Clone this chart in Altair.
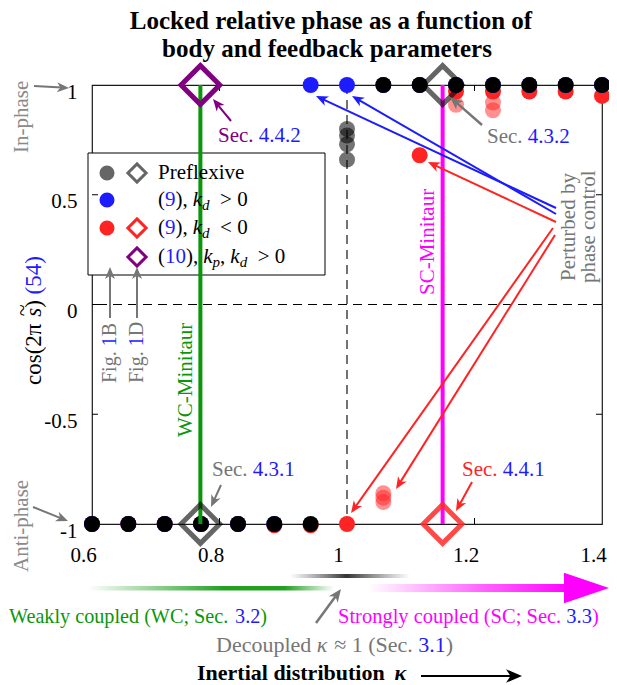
import math
import altair as alt
import pandas as pd

SERIF = "Liberation Serif"

# ---------------- data ----------------
kappa_levels = [0.6, 0.657, 0.714, 0.771, 0.829, 0.886, 0.943, 1.0,
                1.057, 1.114, 1.171, 1.229, 1.286, 1.343, 1.4]

# preflexive simulations
pre_kappa = [0.6, 0.657, 0.714, 0.771, 0.829, 0.886, 0.943, 1.0, 1.0, 1.0, 1.0,
             1.057, 1.114, 1.171, 1.229, 1.286, 1.343, 1.4]
pre_phase = [-1, -1, -1, -1, -1, -1, -1, 0.80, 0.77, 0.73, 0.66,
             1, 1, 1, 1, 1, 1, 1]
pre_faint = [0, 0, 0, 0, 0, 0, 0, 1, 1, 1, 1, 0, 0, 0, 0, 0, 0, 0]

# feedback (9) with k_d > 0
pos_kappa = kappa_levels
pos_phase = [-1, -1, -1, -1, -1, -1, 1, 1, 1, 1, 1, 1, 1, 1, 1]

# feedback (9) with k_d < 0
neg_kappa = [0.6, 0.657, 0.714, 0.771, 0.829, 0.886, 0.943, 1.0,
             1.057, 1.057, 1.057, 1.114, 1.171, 1.171, 1.229, 1.229, 1.229,
             1.286, 1.343, 1.4]
neg_phase = [-1, -1, -1, -1, -1, -1.006, -1.006, -1,
             -0.86, -0.88, -0.90, 0.68, 0.97, 0.91, 0.97, 0.92, 0.885,
             0.97, 0.97, 0.95]
neg_faint = [0, 0, 0, 0, 0, 0, 0, 0, 1, 1, 1, 0, 0, 1, 0, 1, 1, 0, 0, 0]

# analytical (diamond) solutions
pre_d_kappa, pre_d_phase = [0.77, 1.15], [-1, 1]
neg_d_kappa, neg_d_phase = [1.15], [-1]
fb_d_kappa, fb_d_phase = [0.77], [1]

robots = ["WC-Minitaur", "SC-Minitaur"]
robot_kappa = [0.77, 1.15]

x_ticks = [0.6, 0.8, 1.0, 1.2, 1.4]
y_ticks = [-1, -0.5, 0, 0.5, 1]

# ---------------- colours ----------------
K = "#000000"
GRAY = "#767676"
LGRAY = "#8a8a8a"
BLUE = "#1c1cff"
RED = "#ff2424"
PURPLE = "#800080"
GREEN = "#0a960a"
MAG = "#ff00ff"

# ---------------- layout ----------------
X0, Y0, PW, PH = 92, 85, 510, 439   # plot origin on the page, plot size

sx = alt.Scale(domain=[0.6, 1.4], nice=False, zero=False)
sy = alt.Scale(domain=[-1, 1], nice=False, zero=False)
ax_x = alt.Axis(values=x_ticks, labelExpr="toString(datum.value)", ticks=False,
                domain=False, grid=False, title=None, labelPadding=20,
                labelOffset=-9, labelFont=SERIF, labelFontSize=21,
                labelColor=K, labelFlush=False)
ax_y = alt.Axis(values=y_ticks, labelExpr="toString(datum.value)", ticks=False,
                domain=False, grid=False, title=None, labelPadding=15,
                labelOffset=7, labelFont=SERIF, labelFontSize=21,
                labelColor=K, labelFlush=False)


def X(f):
    return alt.X(f, scale=sx, axis=ax_x)


def Y(f):
    return alt.Y(f, scale=sy, axis=ax_y)


# ---- text width estimate (Times metrics) ----
_W = {' ': 250, '(': 333, ')': 333, ',': 250, '-': 333, '.': 250, ';': 278,
      '<': 564, '>': 564, '≈': 549, 'κ': 540, 'π': 550, '~': 541}
for d in "0123456789":
    _W[d] = 500
_W.update(dict(zip("ABCDEFGHIJKLMNOPQRSTUVWXYZ",
                   [722, 667, 667, 722, 611, 556, 722, 722, 333, 389, 722, 611, 889,
                    722, 722, 556, 722, 667, 556, 611, 722, 722, 944, 722, 722, 611])))
_W.update(dict(zip("abcdefghijklmnopqrstuvwxyz",
                   [444, 500, 444, 500, 444, 333, 500, 500, 278, 278, 500, 278, 778,
                    500, 500, 500, 500, 333, 389, 278, 500, 500, 722, 500, 500, 444])))
_WB = dict(_W)
_WB.update({'I': 389, 'n': 556, 'e': 444, 'r': 444, 't': 333, 'd': 556, 'b': 556, 'u': 556})
_WI = dict(_W)
_WI.update({'k': 444})


def tw(s, size, wt="normal", st="normal"):
    tab = _WB if wt == "bold" else (_WI if st == "italic" else _W)
    return sum(tab.get(c, 500) for c in s) * size / 1000.0


pieces = []


def run(x, y, segs, size=21, angle=0):
    cur = 0.0
    for seg in segs:
        s, color = seg[0], seg[1]
        opt = seg[2] if len(seg) > 2 else {}
        if "gap" in opt:
            cur += opt["gap"]
            continue
        fs = opt.get("size", size)
        st = opt.get("style", "normal")
        wt = opt.get("weight", "normal")
        dy = opt.get("dy", 0)
        lead = len(s) - len(s.lstrip(' '))
        core = s.strip(' ')
        off = cur + tw(' ' * lead, fs)
        if core:
            if angle == 0:
                px, py = x + off, y + dy
            else:
                px, py = x + dy, y - off
            pieces.append(dict(x=px - X0, y=py - Y0, t=core, c=color, fs=fs,
                               ang=angle, st=st, wt=wt, al="left"))
        cur += tw(s, fs, wt, st)
    return cur


def centered(x, y, s, color, size, wt="normal", angle=0):
    pieces.append(dict(x=x - X0, y=y - Y0, t=s, c=color, fs=size, ang=angle,
                       st="normal", wt=wt, al="center"))


IT = {"style": "italic"}
SUB = {"style": "italic", "size": 15, "dy": 5}

# title
centered(331, 21, "Locked relative phase as a function of", K, 25, "bold")
centered(327, 49, "body and feedback parameters", K, 25, "bold")

# legend texts
run(158, 173, [("Preflexive", K)])
run(158, 200, [("(", K), ("9", BLUE), ("),", K), ("", None, {"gap": 5}), ("k", K, IT), ("d", K, SUB), ("  > 0", K)])
run(158, 228, [("(", K), ("9", BLUE), ("),", K), ("", None, {"gap": 5}), ("k", K, IT), ("d", K, SUB), ("  < 0", K)])
run(158, 257, [("(", K), ("10", BLUE), ("),", K), ("", None, {"gap": 5}), ("k", K, IT), ("p", K, SUB), (",", K),
               ("", None, {"gap": 5}), ("k", K, IT), ("d", K, SUB), ("  > 0", K)])

# in-plot annotations
run(218, 136, [("Sec.", PURPLE), (" 4.4.2", BLUE)])
run(487, 137, [("Sec.", GRAY), (" 4.3.2", BLUE)])
run(212, 470, [("Sec.", GRAY), (" 4.3.1", BLUE)])
run(462, 470, [("Sec.", RED), (" 4.4.1", BLUE)])
run(569, 281, [("Perturbed by", GRAY)], angle=270)
run(589, 283, [("phase control", GRAY)], angle=270)
run(186, 437, [("WC-Minitaur", GREEN)], angle=270)
run(428, 295, [("SC-Minitaur", MAG)], angle=270)
run(110, 383, [("Fig.", GRAY, {"size": 20}), (" 1", BLUE, {"size": 20}), ("B", GRAY, {"size": 20})], angle=270)
run(137, 383, [("Fig.", GRAY, {"size": 20}), (" 1", BLUE, {"size": 20}), ("D", GRAY, {"size": 20})], angle=270)

# axis side texts (y-axis title with a wide tilde over s)
lab_size = 23
adv = run(34, 385, [("cos(2π", K, {"size": lab_size}), (" s", K, {"size": lab_size, "style": "italic"}),
                    (")", K, {"size": lab_size}), (" (54)", BLUE, {"size": lab_size})], angle=270)
s_center = 385 - tw("cos(2π ", lab_size) - tw("s", lab_size) / 2
centered(22, s_center - 2, "~", K, 22, angle=270)
run(22, 153, [("In-phase", LGRAY)], angle=270)
run(22, 572, [("Anti-phase", LGRAY)], angle=270)

# below the axis
run(9, 617, [("Weakly coupled (WC; Sec.", GREEN), (" 3.2", BLUE), (")", GREEN)], size=20.2)
run(338, 617, [("Strongly coupled (SC; Sec.", MAG), (" 3.3", BLUE), (")", MAG)], size=20.5)
run(216, 645, [("Decoupled", GRAY), (" κ", GRAY, IT), (" ≈ 1 (Sec.", GRAY), (" 3.1", BLUE), (")", GRAY)], size=22)
run(197, 673, [("Inertial distribution", K, {"weight": "bold", "size": 22}),
               ("  κ", K, {"weight": "bold", "style": "italic", "size": 22})])

# arrows: x1, y1, x2 (tip), y2 (tip), colour, width, head length
arrows = [
    (34, 86, 69, 88, GRAY, 2, 12),
    (33, 507, 68, 521, GRAY, 2, 12),
    (231, 121, 213, 99, PURPLE, 2, 12),
    (482, 125, 450, 97, GRAY, 2.5, 13),
    (556, 208, 316, 96, BLUE, 2, 12),
    (556, 214, 352, 96, BLUE, 2, 12),
    (556, 222, 428, 162, RED, 2, 12),
    (553, 228, 351, 513, RED, 2, 12),
    (555, 235, 396, 489, RED, 2, 12),
    (221, 485, 211, 507, GRAY, 2, 12),
    (472, 482, 456, 511, RED, 2, 12),
    (110, 318, 110, 267, GRAY, 2, 12),
    (137, 318, 137, 267, GRAY, 2, 12),
    (316, 623, 341, 589, GRAY, 2.5, 13),
    (421, 676, 522, 676, K, 2, 16),
]

# ---------------- layers ----------------
layers = []

# legend frame
box = pd.DataFrame({"a": [88 - X0], "b": [325 - X0], "c": [153 - Y0], "d": [275 - Y0]})
layers.append(alt.Chart(box).mark_rect(fill="white", stroke=K, strokeWidth=1).encode(
    x=alt.X("a:Q", scale=None), x2="b:Q", y=alt.Y("c:Q", scale=None), y2="d:Q"))

# dashed reference lines (decoupled kappa = 1, cos = 0)
layers.append(alt.Chart(pd.DataFrame({"k": [1.0]})).mark_rule(
    color=K, strokeWidth=1.1, strokeDash=[9, 6]).encode(x=X("k:Q")))
layers.append(alt.Chart(pd.DataFrame({"v": [0.0]})).mark_rule(
    color=K, strokeWidth=1.1, strokeDash=[9, 6]).encode(y=Y("v:Q")))

# inward ticks
xt = pd.DataFrame({"k": x_ticks[1:-1]})
yt = pd.DataFrame({"v": y_ticks[1:-1]})
for a, b in [(PH, PH - 6), (0, 6)]:
    layers.append(alt.Chart(xt).mark_rule(color=K, strokeWidth=1).encode(
        x=X("k:Q"), y=alt.value(a), y2=alt.value(b)))
for a, b in [(0, 6), (PW, PW - 6)]:
    layers.append(alt.Chart(yt).mark_rule(color=K, strokeWidth=1).encode(
        y=Y("v:Q"), x=alt.value(a), x2=alt.value(b)))


def dots(k, v, f, color, faint_op):
    df = pd.DataFrame({"k": k, "v": v, "faint": f})
    return alt.Chart(df).mark_circle(size=255, color=color).encode(
        x=X("k:Q"), y=Y("v:Q"),
        opacity=alt.condition("datum.faint == 1", alt.value(faint_op), alt.value(1)))


layers.append(dots(neg_kappa, neg_phase, neg_faint, RED, 0.5))
layers.append(dots(pos_kappa, pos_phase, [0] * len(pos_kappa), BLUE, 0.5))
layers.append(dots(pre_kappa, pre_phase, pre_faint, K, 0.55))

# robot lines
rl = pd.DataFrame({"k": robot_kappa, "lo": [-1, -1], "hi": [1, 1], "robot": robots})
layers.append(alt.Chart(rl).mark_rule(strokeWidth=4).encode(
    x=X("k:Q"), y=Y("lo:Q"), y2="hi:Q",
    color=alt.Color("robot:N", scale=alt.Scale(domain=robots, range=[GREEN, MAG]), legend=None)))


def diamonds(k, v, color, op):
    df = pd.DataFrame({"k": k, "v": v})
    return alt.Chart(df).mark_point(shape="diamond", filled=False, size=1500,
                                    strokeWidth=5, color=color, opacity=op).encode(
        x=X("k:Q"), y=Y("v:Q"))


layers.append(diamonds(pre_d_kappa, pre_d_phase, "#000000", 0.6))
layers.append(diamonds(neg_d_kappa, neg_d_phase, "#ff2a2a", 0.85))
layers.append(diamonds(fb_d_kappa, fb_d_phase, PURPLE, 1))

# legend symbols
lc = pd.DataFrame({"x": [107 - X0] * 3, "y": [173 - Y0, 200 - Y0, 228 - Y0],
                   "c": ["#666666", BLUE, RED]})
layers.append(alt.Chart(lc).mark_circle(size=227, opacity=1).encode(
    x=alt.X("x:Q", scale=None), y=alt.Y("y:Q", scale=None), color=alt.Color("c:N", scale=None)))
ld = pd.DataFrame({"x": [137 - X0] * 3, "y": [173 - Y0, 228 - Y0, 257 - Y0],
                   "c": ["#666666", RED, PURPLE]})
layers.append(alt.Chart(ld).mark_point(shape="diamond", filled=False, size=330,
                                       strokeWidth=3, opacity=1).encode(
    x=alt.X("x:Q", scale=None), y=alt.Y("y:Q", scale=None), color=alt.Color("c:N", scale=None)))


# gradient bars below the axis
def grad_bar(x1, x2, y1, y2, stops):
    df = pd.DataFrame({"a": [x1 - X0], "b": [x2 - X0], "c": [y1 - Y0], "d": [y2 - Y0]})
    g = alt.LinearGradient(gradient="linear",
                           stops=[alt.GradientStop(offset=o, color=c) for o, c in stops],
                           x1=0, x2=1, y1=0, y2=0)
    return alt.Chart(df).mark_rect(fill=g).encode(
        x=alt.X("a:Q", scale=None), x2="b:Q", y=alt.Y("c:Q", scale=None), y2="d:Q")


layers.append(grad_bar(290, 410, 574, 578, [(0, "rgba(80,80,80,0)"), (0.47, "rgba(40,40,40,0.95)"),
                                            (1, "rgba(80,80,80,0)")]))
layers.append(grad_bar(88, 334, 586, 590.5, [(0, "rgba(10,150,10,0)"), (0.55, "rgba(10,150,10,0.9)"),
                                             (0.8, "rgba(10,150,10,0.9)"), (1, "rgba(10,150,10,0)")]))
layers.append(grad_bar(368, 572, 584, 592, [(0, "rgba(255,0,255,0)"), (0.55, "rgba(255,0,255,0.6)"),
                                            (1, "rgba(255,0,255,1)")]))
mh = pd.DataFrame({"x": [609 - X0], "y": [588 - Y0], "sz": [(2 * 45) ** 2]})
layers.append(alt.Chart(mh).mark_point(shape="M0,0L-1,-0.34L-1,0.34Z", filled=True,
                                       color=MAG, opacity=1, strokeWidth=0).encode(
    x=alt.X("x:Q", scale=None), y=alt.Y("y:Q", scale=None), size=alt.Size("sz:Q", scale=None)))

# annotation arrows
rows, heads = [], []
for (x1, y1, x2, y2, c, w, hl) in arrows:
    dx, dy = x2 - x1, y2 - y1
    L = math.hypot(dx, dy)
    ux, uy = dx / L, dy / L
    ex, ey = x2 - ux * hl * 0.6, y2 - uy * hl * 0.6
    rows.append(dict(x1=x1 - X0, y1=y1 - Y0, x2=ex - X0, y2=ey - Y0, c=c, w=w))
    heads.append(dict(x=x2 - X0, y=y2 - Y0, c=c, ang=math.degrees(math.atan2(dy, dx)) % 360,
                      sz=(2 * hl) ** 2))
layers.append(alt.Chart(pd.DataFrame(rows)).mark_rule().encode(
    x=alt.X("x1:Q", scale=None), y=alt.Y("y1:Q", scale=None), x2="x2:Q", y2="y2:Q",
    color=alt.Color("c:N", scale=None), strokeWidth=alt.StrokeWidth("w:Q", scale=None)))
layers.append(alt.Chart(pd.DataFrame(heads)).mark_point(
    shape="M0,0L-1,-0.42L-0.72,0L-1,0.42Z", filled=True, opacity=1, strokeWidth=0).encode(
    x=alt.X("x:Q", scale=None), y=alt.Y("y:Q", scale=None),
    color=alt.Color("c:N", scale=None), angle=alt.Angle("ang:Q", scale=None),
    size=alt.Size("sz:Q", scale=None)))

# texts
tdf = pd.DataFrame(pieces)
for (st, wt, al), g in tdf.groupby(["st", "wt", "al"]):
    layers.append(alt.Chart(g.reset_index(drop=True)).mark_text(
        font=SERIF, fontStyle=st, fontWeight=wt, align=al, baseline="middle").encode(
        x=alt.X("x:Q", scale=None), y=alt.Y("y:Q", scale=None), text="t:N",
        color=alt.Color("c:N", scale=None), size=alt.Size("fs:Q", scale=None),
        angle=alt.Angle("ang:Q", scale=None)))

chart = alt.layer(*layers).properties(
    width=PW, height=PH,
    autosize=alt.AutoSizeParams(type="none"),
    padding={"left": X0 - 8, "top": Y0 - 8, "right": 7, "bottom": 160},
).configure_view(stroke="#1a1a1a", strokeWidth=1.2)

chart.save("out.html", embed_options={"renderer": "svg", "actions": False})
